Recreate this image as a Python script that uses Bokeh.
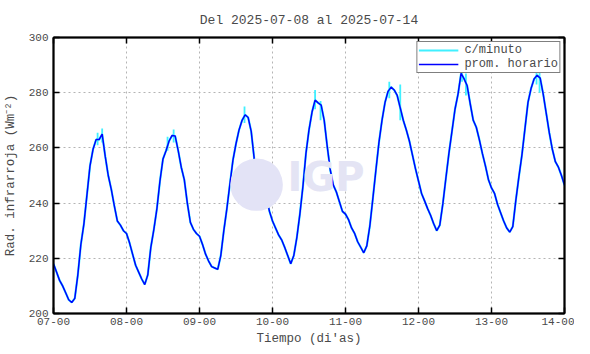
from bokeh.plotting import figure
from bokeh.models import (FixedTicker, LinearAxis, Range1d, Legend, LegendItem, Label)
from bokeh.embed import file_html
from bokeh.resources import INLINE

# ---- data (hourly averages, hours since 2025-07-07 00:00) ----
dia07 = [218, 215, 212, 210, 207.5, 205, 204, 205.5, 214, 225, 232.5, 243,
         253.5, 259.5, 263, 263, 265, 257, 250, 245, 239, 233.5, 232, 230]
dia08 = [229, 225.6, 221.5, 217.5, 215, 212.5, 210.5, 214, 224, 230.5, 238, 248,
         256, 259, 262.5, 264.5, 264.3, 259, 253, 248.5, 240, 233, 230.5, 229]
dia09 = [228, 225, 221.5, 219, 217, 216.5, 216, 221, 230, 238, 247, 255.6,
         261.5, 266.5, 270, 272, 271, 266, 256, 253, 250.5, 246.5, 242, 237]
dia10 = [233.5, 231, 228.5, 226.7, 224, 221, 218, 221, 227.5, 236, 246, 258,
         266.5, 273, 277.3, 276.3, 275.5, 270, 260.5, 252, 246.5, 244, 240.5, 237]
dia11 = [236, 234, 231, 229, 226, 224, 222, 224.5, 231.7, 241.7, 252, 262,
         270, 276.5, 280.5, 282, 281, 279, 274.5, 270, 266.5, 262.5, 257.5, 252.5]
dia12 = [248, 243.5, 240.8, 238, 235.5, 232.5, 230, 232, 239.7, 249, 258, 266,
         274, 279.5, 287, 285, 282.5, 276, 270, 267.5, 263, 258, 253.5, 248.5]
dia13 = [245.5, 243.5, 239.5, 236.5, 233.5, 231, 229.5, 231.5, 241, 249.5, 257.4, 267,
         276.5, 281.5, 285, 286.3, 285.3, 279.5, 272.5, 265.5, 259.5, 255, 253, 250]
dia14 = [246.5]

horario = dia07 + dia08 + dia09 + dia10 + dia11 + dia12 + dia13 + dia14
horas = list(range(len(horario)))

# per-minute excursions visible around the daily maxima
pico_t = [14.5, 16, 37.5, 39.5, 62.8, 86, 87.8, 110.4, 114, 134.3, 135.6, 158.8, 159.8]
pico_lo = [261, 262, 259, 262, 269, 274, 270, 278, 270, 284, 279, 283, 280]
pico_hi = [265.5, 267, 264, 266.7, 275, 281, 277, 284, 283, 294, 287, 290, 288]

x_ticks = [0, 24, 48, 72, 96, 120, 144, 168]
x_labels = ["07-00", "08-00", "09-00", "10-00", "11-00", "12-00", "13-00", "14-00"]
y_ticks = [200, 220, 240, 260, 280, 300]

FONT = "Liberation Mono"
TXT = "#4a4a4a"

p = figure(width=574, height=348, output_backend="svg", toolbar_location=None,
           x_range=Range1d(0, 168), y_range=Range1d(200, 300),
           min_border_left=5, min_border_right=10, min_border_top=37, min_border_bottom=0)

p.title.text = "Del 2025-07-08 al 2025-07-14"
p.title.align = "center"
p.title.text_font = FONT
p.title.text_font_size = "13px"
p.title.text_font_style = "normal"
p.title.text_color = TXT
p.title.standoff = 19

# watermark (IGP logo)
p.add_layout(Label(x=203, y=137, x_units="screen", y_units="screen", text="\u25cf",
                   text_font_size="122px", text_color="#e3e3f6", text_align="center",
                   text_baseline="middle"))
p.add_layout(Label(x=234, y=137, x_units="screen", y_units="screen", text="IGP",
                   text_font="DejaVu Sans", text_font_style="bold",
                   text_font_size="40px", text_color="#e4e4f4", text_baseline="middle"))

r_min = p.line(horas, horario, line_color="#40f0ff", line_width=2.2)
p.segment(x0=pico_t, y0=pico_lo, x1=pico_t, y1=pico_hi, line_color="#40f0ff", line_width=1.8)
r_hr = p.line(horas, horario, line_color="#0000ff", line_width=1.5)

# axes
for ax in p.xaxis:
    ax.ticker = FixedTicker(ticks=x_ticks)
    ax.major_label_overrides = {t: l for t, l in zip(x_ticks, x_labels)}
    ax.axis_label = "Tiempo (di'as)"
for ax in p.yaxis:
    ax.ticker = FixedTicker(ticks=y_ticks)
    ax.axis_label = "Rad. infrarroja (Wm\u207b\u00b2)"

top = LinearAxis(ticker=FixedTicker(ticks=x_ticks),
                 major_label_overrides={t: "" for t in x_ticks})
right = LinearAxis(ticker=FixedTicker(ticks=y_ticks),
                   major_label_overrides={t: "" for t in y_ticks})
p.add_layout(top, "above")
p.add_layout(right, "right")

for ax in p.axis:
    ax.axis_line_width = 2
    ax.axis_line_color = "black"
    ax.major_tick_in = 6
    ax.major_tick_out = 0
    ax.major_tick_line_width = 1.5
    ax.minor_tick_line_color = None
    ax.major_label_text_font = FONT
    ax.major_label_text_font_size = "11px"
    ax.major_label_text_color = TXT
    ax.axis_label_text_font = FONT
    ax.axis_label_text_font_size = "12.5px"
    ax.axis_label_text_font_style = "normal"
    ax.axis_label_text_color = TXT
    ax.major_label_standoff = 4
    ax.axis_label_standoff = 4

for ax in (top, right):
    ax.major_label_text_font_size = "0px"
    ax.major_label_standoff = 0
    ax.axis_label_standoff = 0

p.xaxis[0].major_label_standoff = 3
p.xaxis[0].axis_label_standoff = 10
p.yaxis[0].major_label_standoff = 5
p.yaxis[0].axis_label_standoff = 8

p.xgrid.ticker = FixedTicker(ticks=x_ticks)
p.ygrid.ticker = FixedTicker(ticks=y_ticks)
p.grid.grid_line_color = "#b4b4b4"
p.grid.grid_line_dash = "2 3"
p.grid.grid_line_width = 1
p.outline_line_color = "black"
p.outline_line_width = 1.5

legend = Legend(items=[LegendItem(label="c/minuto", renderers=[r_min]),
                       LegendItem(label="prom. horario", renderers=[r_hr])],
                location="top_right")
legend.label_text_font = FONT
legend.label_text_font_size = "12px"
legend.label_text_color = TXT
legend.border_line_color = "black"
legend.border_line_width = 1
legend.background_fill_alpha = 1
legend.padding = 1
legend.spacing = 0
legend.margin = 4
legend.label_height = 10
legend.glyph_height = 10
legend.glyph_width = 40
legend.label_standoff = 6
p.add_layout(legend)

open("out.html", "w").write(file_html(p, INLINE))
